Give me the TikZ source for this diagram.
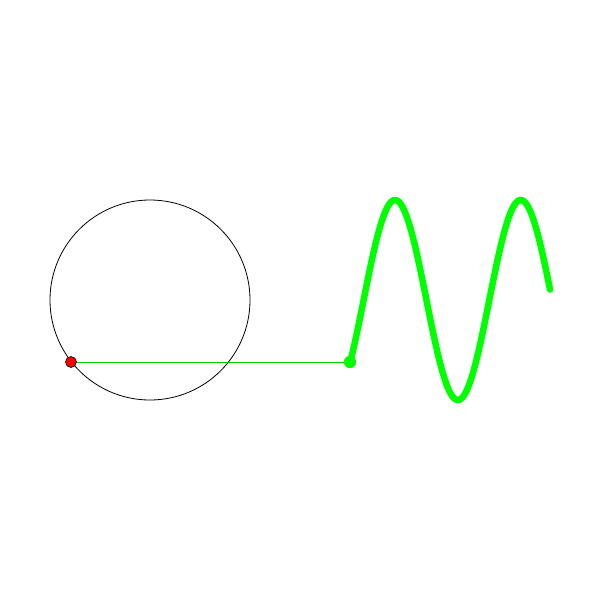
\documentclass[tikz,border=0pt]{standalone}
\begin{document}
\begin{tikzpicture}[x=1pt,y=-1pt,
  wheel/.style={circle,draw=black,line width=0.8pt,minimum size=200pt,inner sep=0pt},
  reddot/.style={circle,fill=red,draw=black,line width=0.6pt,minimum size=11pt,inner sep=0pt},
  greendot/.style={circle,fill=green,minimum size=12pt,inner sep=0pt},
  link/.style={green!80!black,line width=0.8pt},
  wave/.style={green,line width=6.5pt,line cap=round,line join=round}]
\useasboundingbox (0,0) rectangle (600,600);
\node[wheel] (wheel) at (150,300) {};
\node[greendot] (g) at (350,362) {};
\draw[wave] plot[domain=-39:534,samples=250] ({350+(\x+39)*0.3491},{300-100*sin(\x)});
\node[greendot] at (g) {};
\node[reddot] (r) at (71,362) {};
\draw[link] (r) -- (g);
\end{tikzpicture}
\end{document}
